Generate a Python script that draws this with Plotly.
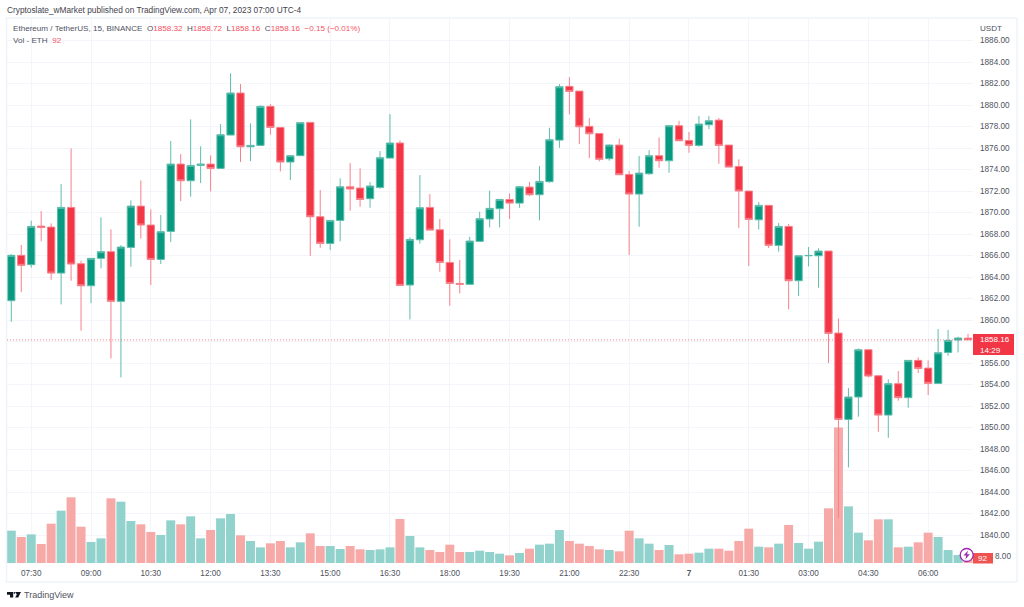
# ETH/USDT 15m candles with volume, TradingView look
import pandas as pd
from plotly import graph_objs as go

times = pd.date_range("2023-04-06 07:00", periods=97, freq="15min")

opens = [1861.80, 1866.02, 1865.15, 1868.74, 1868.65, 1864.37, 1870.48, 1865.24, 1863.19, 1865.74,
         1866.36, 1861.74, 1866.76, 1870.60, 1868.84, 1865.64, 1868.25, 1874.51, 1872.96, 1874.39,
         1874.51, 1874.11, 1877.21, 1881.12, 1876.12, 1876.25, 1879.88, 1877.92, 1874.70, 1875.29,
         1878.39, 1869.61, 1867.13, 1869.27, 1872.40, 1872.28, 1871.29, 1872.34, 1875.07, 1876.47,
         1863.26, 1867.47, 1870.48, 1868.40, 1865.36, 1863.41, 1863.32, 1867.32, 1869.40, 1870.36,
         1871.22, 1870.88, 1872.37, 1871.66, 1872.87, 1876.74, 1881.74, 1881.30, 1878.02, 1877.36,
         1875.01, 1876.28, 1873.55, 1871.72, 1873.61, 1875.29, 1874.82, 1878.08, 1876.71, 1876.25,
         1878.17, 1878.60, 1876.28, 1874.29, 1872.00, 1869.33, 1870.67, 1866.95, 1868.71, 1863.66,
         1865.98, 1865.98, 1866.42, 1858.79, 1850.76, 1852.84, 1857.24, 1854.82, 1851.16, 1854.08,
         1852.78, 1856.25, 1855.53, 1854.11, 1856.99, 1858.14, 1858.32]
closes = [1866.02, 1865.09, 1868.71, 1868.62, 1864.37, 1870.48, 1865.21, 1863.19, 1865.74, 1866.36,
          1861.74, 1866.79, 1870.60, 1868.84, 1865.64, 1868.22, 1874.51, 1872.96, 1874.39, 1874.51,
          1874.11, 1877.24, 1881.12, 1876.12, 1876.25, 1879.88, 1877.92, 1874.70, 1875.29, 1878.36,
          1869.61, 1867.13, 1869.27, 1872.40, 1872.19, 1871.22, 1872.47, 1875.10, 1876.47, 1863.22,
          1867.50, 1870.45, 1868.37, 1865.36, 1863.41, 1863.32, 1867.35, 1869.43, 1870.39, 1871.22,
          1870.88, 1872.40, 1871.66, 1872.90, 1876.78, 1881.71, 1881.27, 1877.98, 1877.33, 1874.95,
          1876.28, 1873.52, 1871.72, 1873.67, 1875.29, 1874.82, 1878.08, 1876.68, 1876.25, 1878.23,
          1878.54, 1876.25, 1874.23, 1872.00, 1869.36, 1870.67, 1866.95, 1868.71, 1863.66, 1865.98,
          1866.01, 1866.42, 1858.76, 1850.76, 1852.84, 1857.24, 1854.79, 1851.16, 1854.08, 1852.78,
          1856.25, 1855.50, 1854.11, 1856.96, 1858.11, 1858.33, 1858.16]
highs = [1866.14, 1866.98, 1869.24, 1870.14, 1868.99, 1872.65, 1875.97, 1865.52, 1865.74, 1869.55,
         1868.43, 1866.98, 1871.13, 1872.99, 1870.29, 1869.77, 1876.65, 1875.44, 1878.67, 1876.16,
         1875.32, 1878.23, 1882.95, 1881.95, 1878.29, 1879.97, 1880.09, 1877.92, 1875.29, 1878.42,
         1878.39, 1872.09, 1869.27, 1873.18, 1874.60, 1874.11, 1872.84, 1875.72, 1879.16, 1876.71,
         1867.69, 1873.49, 1871.72, 1869.40, 1867.50, 1865.58, 1867.75, 1870.08, 1872.03, 1871.22,
         1871.78, 1872.47, 1872.84, 1874.33, 1877.89, 1881.95, 1882.60, 1881.30, 1878.79, 1877.36,
         1876.34, 1876.87, 1873.89, 1875.26, 1875.81, 1876.99, 1878.14, 1878.54, 1877.49, 1878.98,
         1878.98, 1878.79, 1876.28, 1874.95, 1872.00, 1870.98, 1870.67, 1869.02, 1868.93, 1865.98,
         1866.79, 1866.67, 1866.42, 1860.16, 1853.67, 1857.36, 1857.24, 1854.82, 1854.48, 1855.26,
         1856.25, 1856.53, 1856.25, 1859.16, 1859.07, 1858.45, 1858.72]
lows = [1859.84, 1862.60, 1864.87, 1867.32, 1863.75, 1861.46, 1863.66, 1859.01, 1861.58, 1864.81,
        1856.43, 1854.67, 1864.96, 1867.57, 1863.26, 1865.21, 1867.26, 1871.07, 1871.47, 1872.74,
        1871.97, 1874.11, 1877.21, 1874.70, 1874.79, 1876.25, 1877.24, 1873.83, 1873.02, 1875.29,
        1865.98, 1866.73, 1866.51, 1867.32, 1870.17, 1870.54, 1870.45, 1872.22, 1875.07, 1863.16,
        1860.06, 1867.10, 1868.37, 1864.50, 1861.33, 1862.48, 1863.32, 1867.32, 1868.62, 1868.62,
        1869.40, 1870.45, 1871.53, 1869.27, 1872.78, 1876.03, 1879.13, 1876.37, 1875.07, 1874.76,
        1874.82, 1873.52, 1866.05, 1868.68, 1873.52, 1874.17, 1873.71, 1876.68, 1875.57, 1876.12,
        1877.77, 1874.54, 1874.23, 1868.56, 1865.02, 1868.43, 1866.70, 1866.36, 1860.99, 1862.23,
        1864.99, 1863.01, 1856.00, 1841.60, 1846.29, 1851.01, 1854.67, 1849.61, 1849.05, 1852.50,
        1851.84, 1855.07, 1853.02, 1854.05, 1856.68, 1856.99, 1858.16]
volumes = [970, 780, 860, 570, 1180, 1570, 1970, 1090, 630, 740,
           1940, 1840, 1260, 1160, 930, 840, 1280, 1160, 1400, 740,
           990, 1340, 1470, 830, 660, 470, 590, 660, 470, 620,
           890, 510, 510, 420, 510, 410, 390, 410, 470, 1320,
           810, 470, 390, 330, 550, 330, 330, 370, 330, 280,
           230, 300, 430, 550, 580, 990, 660, 580, 510, 410,
           390, 350, 970, 740, 580, 390, 540, 260, 280, 310,
           430, 430, 370, 660, 1030, 490, 470, 580, 1140, 600,
           430, 640, 1640, 4065, 1700, 910, 680, 1310, 1310, 470,
           490, 620, 910, 780, 390, 240, 92]

price_ticks = list(range(1838, 1888, 2))
# 1838 and 1858 sit under the red tags, so their axis labels stay empty
price_labels = ["" if t in (1838, 1858) else f"{t}.00" for t in price_ticks]
time_tick_labels = ["07:30", "09:00", "10:30", "12:00", "13:30", "15:00", "16:30", "18:00",
                    "19:30", "21:00", "22:30", "<b>7</b>", "01:30", "03:00", "04:30", "06:00"]
time_ticks = list(times[2::6])
last_price = 1858.16

GREEN = "#089981"
RED = "#F23645"
GRID = "#f3f5fa"
TEXT = "#50535e"
FONT = "Liberation Sans"

# plot area in page pixels
LEFT, RIGHT, TOP, BOTTOM = 7, 973, 18, 563
x_range = ["2023-04-06 06:53:33", "2023-04-07 07:07:30"]


def px(x):
    return (x - LEFT) / (RIGHT - LEFT)


def py(y):
    return (BOTTOM - y) / (BOTTOM - TOP)


def label(x, y, text, size=8.1, color=TEXT, anchor="left"):
    fig.add_annotation(xref="paper", yref="paper", x=px(x), y=py(y), text=text, showarrow=False,
                       xanchor=anchor, yanchor="middle", align=anchor, borderpad=0,
                       font=dict(family=FONT, size=size, color=color))


def pixel_shape(points, **kw):
    path = "M" + " L".join(f"{px(a):.5f},{py(b):.5f}" for a, b in points) + " Z"
    fig.add_shape(type="path", path=path, xref="paper", yref="paper", layer="above", **kw)


def pixel_rect(x0, y0, x1, y1, **kw):
    fig.add_shape(type="rect", xref="paper", yref="paper", layer="above",
                  x0=px(x0), x1=px(x1), y0=py(y0), y1=py(y1), **kw)


vol_colors = ["#92d2cc" if c >= o else "#f7a9a7" for o, c in zip(opens, closes)]

fig = go.Figure()
fig.add_bar(x=times, y=volumes, marker=dict(color=vol_colors, line_width=0), yaxis="y", showlegend=False)
# paler outline: wicks and body edges read lighter than the fill in the reference
fig.add_trace(go.Candlestick(x=times, open=opens, high=highs, low=lows, close=closes, yaxis="y2",
                             whiskerwidth=0, showlegend=False,
                             increasing=dict(line=dict(color="#5dbdac", width=1), fillcolor=GREEN),
                             decreasing=dict(line=dict(color="#f7808b", width=1), fillcolor=RED)))

fig.update_layout(
    width=1024, height=607, margin=dict(l=LEFT, r=1024 - RIGHT, t=TOP, b=607 - BOTTOM),
    paper_bgcolor="white", plot_bgcolor="white", bargap=0.1, boxgap=0.27, boxgroupgap=0,
    font=dict(family=FONT, size=8.2, color=TEXT),
    xaxis=dict(type="date", range=x_range, rangeslider_visible=False, tickmode="array",
               tickvals=time_ticks, ticktext=time_tick_labels, showgrid=True, gridcolor=GRID,
               gridwidth=1, zeroline=False, showline=False, ticks="", ticklabelstandoff=4,
               tickfont=dict(size=8.2)),
    yaxis=dict(range=[0, 16350], visible=False, showgrid=False, zeroline=False),
    yaxis2=dict(overlaying="y", side="right", range=[1837.4, 1888.1], tickmode="array",
                tickvals=price_ticks, ticktext=price_labels,
                showgrid=True, gridcolor=GRID, gridwidth=1, zeroline=False, showline=False,
                ticks="", ticklabelstandoff=6, tickfont=dict(size=8.2)),
)

# pale frame round the chart
pixel_rect(6.5, 18, 1017, 582, line=dict(color="#f0f3fa", width=1.5))

# last price line and tag
fig.add_shape(type="line", xref="x", yref="y2", x0=x_range[0], x1=x_range[1], y0=last_price, y1=last_price,
              line=dict(color=RED, width=1, dash="1px,2px"), opacity=0.6)
pixel_rect(973, 334, 1014, 355, fillcolor=RED, line=dict(color=RED, width=0))
label(979, 344.5, "1858.16<br>14:29", color="white")

# last volume tag and the purple bolt badge
pixel_rect(973, 553, 993, 563.5, fillcolor="#ef5350", line=dict(color="#ef5350", width=0))
label(983, 558.5, "92", color="white", anchor="center")
label(993.5, 556, "8.00", size=8.2)
fig.add_shape(type="circle", xref="paper", yref="paper", layer="above", x0=px(960.2), x1=px(973.2),
              y0=py(548.5), y1=py(561.5), fillcolor="white", line=dict(color="#9c27b0", width=1.3))
pixel_shape([(968, 550.5), (963.6, 555.6), (966.3, 555.6), (965.3, 559.5), (969.8, 554.2), (967.1, 554.2)],
            fillcolor="#9c27b0", line_width=0)

# header texts
label(6, 9.5, "Cryptoslate_wMarket published on TradingView.com, Apr 07, 2023 07:00 UTC-4", size=8.3, color="#3f424c")
down = "<span style='color:#f7525f'>%s</span>"
label(12, 29, "Ethereum / TetherUS, 15, BINANCE  O" + down % "1858.32" + "  H" + down % "1858.72"
      + "  L" + down % "1858.16" + "  C" + down % "1858.16" + "  " + down % "−0.15 (−0.01%)")
label(12, 41, "Vol - ETH  " + down % "92")
label(979, 28, "USDT")

# TradingView mark, bottom left
pixel_shape([(7, 592), (13.2, 592), (13.2, 597.6), (10, 597.6), (10, 594.8), (7, 594.8)], fillcolor="#131722", line_width=0)
pixel_shape([(15.2, 592), (21, 592), (18.2, 597.6), (15.2, 597.6), (16.8, 594.6)], fillcolor="#131722", line_width=0)
fig.add_shape(type="circle", xref="paper", yref="paper", layer="above", x0=px(13.6), x1=px(15.3),
              y0=py(592), y1=py(593.7), fillcolor="#131722", line_width=0)
label(22.5, 595, "TradingView", size=9, color="#50535e")

fig.write_html("out.html", post_script="document.body.style.margin='0';", config=dict(displayModeBar=False))
